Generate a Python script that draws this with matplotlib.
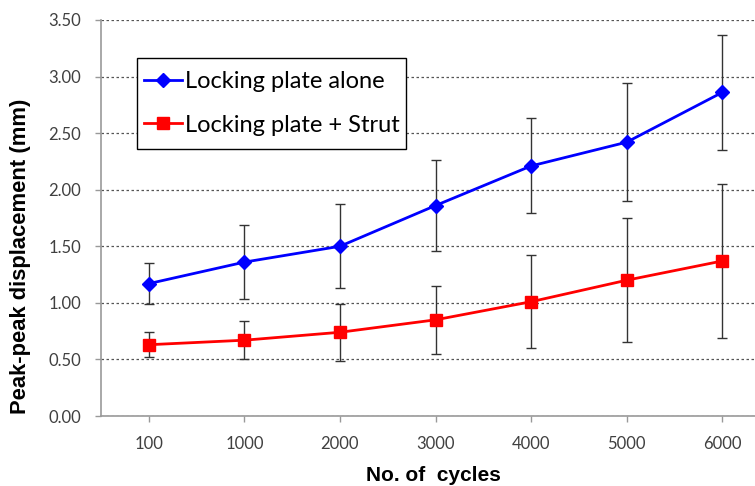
import matplotlib
matplotlib.use("Agg")
import matplotlib.pyplot as plt
from matplotlib.patches import Rectangle
import numpy as np

categories = ["100", "1000", "2000", "3000", "4000", "5000", "6000"]
plate_alone = [1.17, 1.36, 1.50, 1.86, 2.21, 2.42, 2.86]
plate_alone_sd = [0.18, 0.33, 0.37, 0.40, 0.42, 0.52, 0.51]
plate_strut = [0.63, 0.67, 0.74, 0.85, 1.01, 1.20, 1.37]
plate_strut_sd = [0.11, 0.17, 0.25, 0.30, 0.41, 0.55, 0.68]
y_ticks = [0.0, 0.5, 1.0, 1.5, 2.0, 2.5, 3.0, 3.5]

W, H = 755, 486
fig = plt.figure(figsize=(W / 100, H / 100), dpi=100)
ax = fig.add_axes([101/W, 70/H, 669/W, 396/H])

x = np.arange(len(categories))
ax.errorbar(x, plate_alone, yerr=plate_alone_sd, color="#0000FF", lw=2,
            marker="D", markersize=7, ecolor="#333333", elinewidth=1,
            capsize=3.5, capthick=1, label="Locking plate alone", zorder=3)
ax.errorbar(x, plate_strut, yerr=plate_strut_sd, color="#FF0000", lw=2,
            marker="s", markersize=8, ecolor="#333333", elinewidth=1,
            capsize=3.5, capthick=1, label="Locking plate + Strut", zorder=3)

ax.set_xlim(-0.5, len(categories) - 0.5)
ax.set_ylim(0, 3.5)
ax.set_xticks(x)
ax.set_xticklabels(categories)
ax.set_yticks(y_ticks)
ax.set_yticklabels([f"{v:.2f}" for v in y_ticks])
ax.yaxis.grid(True, linestyle=(0, (2, 2)), color="#555555", lw=0.9)
ax.set_axisbelow(True)
for s in ["top", "right"]:
    ax.spines[s].set_visible(False)
for s in ["left", "bottom"]:
    ax.spines[s].set_color("#999999")
    ax.spines[s].set_linewidth(1.2)
ax.tick_params(axis="both", colors="#999999", labelcolor="#404040",
               labelsize=12, length=4.5, width=1)
ax.tick_params(axis="x", pad=10)
ax.tick_params(axis="y", pad=10)
for lbl in ax.get_xticklabels() + ax.get_yticklabels():
    lbl.set_family("Lato")

ax.set_ylabel("Peak-peak displacement (mm)", fontsize=15.8, fontweight="bold",
              family="Liberation Sans")
ax.yaxis.set_label_coords((31 - 101) / 669, (416 - 256) / 396)
ax.set_xlabel("No. of  cycles", fontsize=15, fontweight="bold",
              family="Liberation Sans")
ax.xaxis.set_label_coords((433 - 101) / 669, -50 / 396)

# legend frame (pixel box 137..406 x 58..149)
x0, x1, y0, y1 = 137, 406, 58, 149
fig.patches.append(Rectangle((x0 / W, 1 - y1 / H), (x1 - x0) / W, (y1 - y0) / H,
                             transform=fig.transFigure, fill=True, facecolor="white",
                             edgecolor="#000000", lw=1.0, zorder=5))

handles, labels = ax.get_legend_handles_labels()
handles = [h[0] for h in handles]
leg = fig.legend(handles, labels, loc="center left",
                 bbox_to_anchor=(x0 / W, 1 - y1 / H, (x1 - x0) / W, (y1 - y0) / H),
                 bbox_transform=fig.transFigure,
                 prop={"family": "Lato", "size": 17}, frameon=False,
                 handlelength=1.6, handletextpad=0.15,
                 labelspacing=0.95, borderpad=0.0, borderaxespad=0.3)
leg.set_zorder(6)

fig.savefig("out.png", dpi=100)
